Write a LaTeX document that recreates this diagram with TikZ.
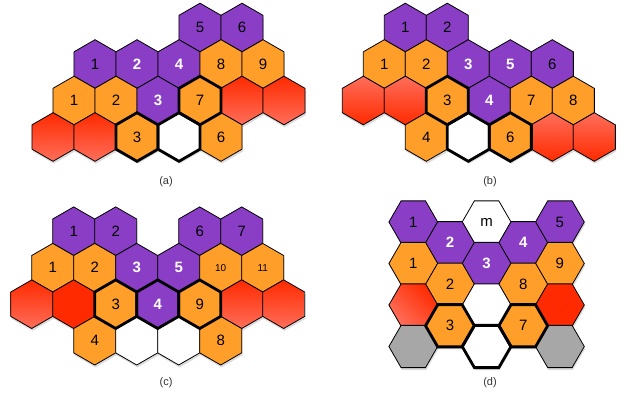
\documentclass[tikz,border=0pt]{standalone}
\usepackage{fontspec}
\setmainfont{Liberation Sans}
\usetikzlibrary{shapes.geometric,shadows}
\definecolor{hexpurple}{HTML}{8A3EC5}
\definecolor{hexorange}{HTML}{FF9E28}
\definecolor{hexred}{HTML}{FF2A00}
\definecolor{hexredlt}{HTML}{FF6E5A}
\definecolor{hexgray}{HTML}{A7A7A7}
\definecolor{capgray}{HTML}{333333}
\tikzset{
  hexcell/.style={regular polygon,regular polygon sides=6,shape border rotate=30,
                  minimum size=48.6pt,inner sep=0pt,outer sep=0pt,draw=black,
                  line width=0.8pt,font=\fontsize{15}{15}\selectfont,
                  drop shadow={opacity=0.28,shadow xshift=0.8pt,shadow yshift=-2.4pt}},
  flatcell/.style={hexcell,shape border rotate=0,minimum size=48.8pt},
  hxpurple/.style={fill=hexpurple},
  hxpurplew/.style={fill=hexpurple,text=white,font=\fontsize{15}{15}\selectfont\bfseries},
  hxorange/.style={fill=hexorange},
  hxorangesm/.style={fill=hexorange,font=\fontsize{10}{10}\selectfont},
  hxwhite/.style={fill=white},
  hxgray/.style={fill=hexgray},
  hxredfull/.style={fill=hexred},
  hxredtop/.style={top color=hexred,bottom color=hexredlt},
  hxredbot/.style={top color=hexredlt,bottom color=hexred},
  hxreddiag/.style={top color=hexred,bottom color=hexredlt,shading angle=-45},
  heavy/.style={draw=black,line width=2.8pt,line join=miter},
  caption/.style={font=\fontsize{11}{11}\selectfont,text=capgray}
}

\begin{document}
\begin{tikzpicture}[x=1pt,y=-1pt]
  \useasboundingbox (0,0) rectangle (624,399);

  % (a)
  \begin{scope}[shift={(53,27.5)}]
    \foreach \nm/\k/\r/\sty/\txt in {
      a1/7/0/hxpurple/5, a2/9/0/hxpurple/6,
      a3/2/1/hxpurple/1, a4/4/1/hxpurplew/2, a5/6/1/hxpurplew/4,
      a6/8/1/hxorange/8, a7/10/1/hxorange/9,
      a8/1/2/hxorange/1, a9/3/2/hxorange/2, a10/5/2/hxpurplew/3,
      a11/7/2/hxorange/7, a12/9/2/hxredtop/, a13/11/2/hxredtop/,
      a14/0/3/hxredtop/, a15/2/3/hxredtop/, a16/4/3/hxorange/3,
      a17/6/3/hxwhite/, a18/8/3/hxorange/6}{
      \node[hexcell,\sty] (\nm) at ({21*\k},{36.5*\r}) {\txt};
    }
  \end{scope}
  \node[caption] (capa) at (166,182) {(a)};

  % (b)
  \begin{scope}[shift={(363.3,27.5)}]
    \foreach \nm/\k/\r/\sty/\txt in {
      b1/2/0/hxpurple/1, b2/4/0/hxpurple/2,
      b3/1/1/hxorange/1, b4/3/1/hxorange/2, b5/5/1/hxpurplew/3,
      b6/7/1/hxpurplew/5, b7/9/1/hxpurple/6,
      b8/0/2/hxredbot/, b9/2/2/hxredbot/, b10/4/2/hxorange/3,
      b11/6/2/hxpurplew/4, b12/8/2/hxorange/7, b13/10/2/hxorange/8,
      b14/3/3/hxorange/4, b15/5/3/hxwhite/, b16/7/3/hxorange/6,
      b17/9/3/hxredbot/, b18/11/3/hxredbot/}{
      \node[hexcell,\sty] (\nm) at ({21*\k},{36.5*\r}) {\txt};
    }
  \end{scope}
  \node[caption] (capb) at (490,182) {(b)};

  % (c)
  \begin{scope}[shift={(31.7,231.2)}]
    \foreach \nm/\k/\r/\sty/\txt in {
      c1/2/0/hxpurple/1, c2/4/0/hxpurple/2, c3/8/0/hxpurple/6, c4/10/0/hxpurple/7,
      c5/1/1/hxorange/1, c6/3/1/hxorange/2, c7/5/1/hxpurplew/3,
      c8/7/1/hxpurplew/5, c9/9/1/hxorangesm/10, c10/11/1/hxorangesm/11,
      c11/0/2/hxredtop/, c12/2/2/hxredfull/, c13/4/2/hxorange/3,
      c14/6/2/hxpurplew/4, c15/8/2/hxorange/9, c16/10/2/hxredtop/,
      c17/12/2/hxredtop/,
      c18/3/3/hxorange/4, c19/5/3/hxwhite/, c20/7/3/hxwhite/, c21/9/3/hxorange/8}{
      \node[hexcell,\sty] (\nm) at ({21*\k},{36.5*\r}) {\txt};
    }
  \end{scope}
  \node[caption] (capc) at (166,383) {(c)};

  % (d)
  \begin{scope}[shift={(413.3,222)}]
    \foreach \nm/\i/\j/\sty/\txt in {
      d1/0/0/hxpurple/1, d8/2/0/hxwhite/m, d15/4/0/hxpurple/5,
      d5/1/0.5/hxpurplew/2, d12/3/0.5/hxpurplew/4,
      d2/0/1/hxorange/1, d9/2/1/hxpurplew/3, d16/4/1/hxorange/9,
      d6/1/1.5/hxorange/2, d13/3/1.5/hxorange/8,
      d3/0/2/hxreddiag/, d10/2/2/hxwhite/, d17/4/2/hxredfull/,
      d7/1/2.5/hxorange/3, d14/3/2.5/hxorange/7,
      d4/0/3/hxgray/, d11/2/3/hxwhite/, d18/4/3/hxgray/}{
      \node[flatcell,\sty] (\nm) at ({36.65*\i},{41.5*\j}) {\txt};
    }
  \end{scope}
  \node[caption] (capd) at (490,383) {(d)};

  % heavy outlines on top
  \foreach \nm in {a11,a16,a17,b10,b15,b16,c13,c14,c15,d7,d11,d14}{
    \draw[heavy] (\nm.corner 1) -- (\nm.corner 2) -- (\nm.corner 3)
      -- (\nm.corner 4) -- (\nm.corner 5) -- (\nm.corner 6) -- cycle;
  }
\end{tikzpicture}
\end{document}
